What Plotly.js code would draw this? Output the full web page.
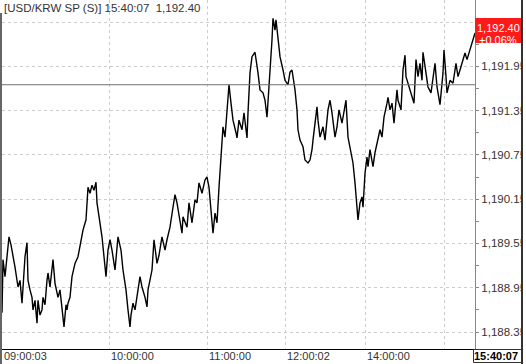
<!DOCTYPE html>
<html><head><meta charset="utf-8">
<script src="https://cdn.plot.ly/plotly-3.0.1.min.js"></script>
<style>html,body{margin:0;padding:0;background:#fff}#c{width:526px;height:364px}</style>
</head><body><div id="c"></div>
<script>
// ---- data (tick sequence number within the session, price) ----
const seq = [0,1,3,5,7,9,10,11,13,16,18,20,21,23,25,26,28,30,31,33,35,36,38,40,41,43,45,46,48,51,53,56,58,60,62,64,65,66,68,70,73,76,78,81,84,86,88,90,92,94,95,98,100,102,104,106,108,110,113,116,119,121,124,126,128,129,131,133,135,138,140,143,145,146,150,152,155,157,160,163,165,168,171,173,175,178,180,181,185,187,190,193,195,197,200,203,205,207,209,211,213,215,217,219,221,223,225,227,229,231,234,235,237,240,242,245,246,248,250,253,256,258,261,263,265,268,270,271,273,274,276,278,281,283,286,288,290,293,295,296,298,301,303,306,308,310,311,315,316,318,321,323,326,328,330,333,335,337,340,341,343,344,346,348,351,353,355,356,358,360,361,363,365,366,368,371,373,375,378,380,382,385,386,388,390,392,395,396,399,401,403,404,406,408,411,412,414,416,418,420,421,424,426,429,431,433,435,438,441,442,444,445,448,451,454,456,458,461,463,465,468,471,473];
const price = [1188.61,1189.33,1189.10,1189.37,1189.64,1189.53,1189.46,1189.42,1189.23,1188.96,1189.05,1188.74,1188.92,1189.37,1189.56,1189.05,1188.92,1188.82,1188.65,1188.78,1188.47,1188.78,1188.58,1188.65,1188.82,1188.72,1189.05,1189.15,1188.96,1189.33,1189.01,1188.82,1188.92,1188.65,1188.42,1188.72,1188.65,1188.74,1188.82,1189.10,1189.28,1189.37,1189.50,1189.73,1189.87,1190.31,1190.23,1190.34,1190.27,1190.38,1190.10,1189.83,1189.64,1189.37,1189.10,1189.46,1189.60,1189.46,1189.19,1189.64,1189.46,1189.19,1188.92,1188.65,1188.42,1188.58,1188.74,1188.65,1188.82,1189.10,1188.96,1188.82,1188.69,1188.92,1189.19,1189.60,1189.28,1189.39,1189.64,1189.46,1189.60,1189.77,1190.04,1190.21,1190.10,1189.87,1189.69,1189.91,1189.77,1190.10,1189.83,1190.14,1190.10,1190.37,1190.23,1190.41,1190.45,1190.31,1190.04,1189.69,1189.96,1189.83,1190.31,1190.72,1191.13,1190.99,1191.36,1191.70,1191.45,1191.22,1191.05,1190.98,1191.22,1191.09,1191.32,1190.98,1191.32,1191.86,1192.08,1192.14,1191.86,1191.63,1191.59,1191.49,1191.26,1191.83,1192.31,1192.60,1192.44,1192.58,1192.31,1192.08,1191.90,1191.76,1191.70,1191.87,1191.90,1191.63,1191.36,1191.09,1190.95,1190.86,1190.68,1190.64,1190.68,1190.82,1190.95,1191.40,1191.22,1190.99,1191.13,1190.95,1191.36,1191.49,1191.32,1190.99,1191.13,1191.36,1191.18,1191.26,1191.36,1191.49,1190.99,1190.86,1190.64,1190.37,1190.04,1189.87,1190.10,1190.18,1190.04,1190.50,1190.72,1190.59,1190.82,1190.59,1190.78,1190.91,1191.09,1190.99,1191.26,1191.45,1191.53,1191.36,1191.45,1191.18,1191.63,1191.49,1191.36,1191.90,1192.10,1191.81,1191.72,1191.63,1191.53,1191.45,1192.04,1191.81,1191.99,1191.76,1192.14,1191.81,1191.67,1191.59,1191.76,1191.99,1191.67,1191.43,1191.86,1192.17,1191.81,1191.59,1191.76,1191.72,1191.99,1191.81,1191.90,1192.04,1192.13,1192.04,1192.17,1192.31,1192.40];
const prevClose = 1191.70;
const symbol = '[USD/KRW SP (S)]';
const lastTime = '15:40:07';
const gridSeq = [107,205,283,363,442];
const labelSeq = [0,107,205,283,363];
const labelText = ['09:00:03','10:00:00','11:00:00','12:00:02','14:00:00'];
const seqMax = 473;
const yTick0 = 1188.35, yStep = 0.6;
const yMin = 1188.12, yMax = 1192.848;

// ---- layout helpers ----
const W = 526, H = 364, ML = 2, MR = 51, MT = 0, MB = 15;
const PW = W - ML - MR, PH = H - MT - MB;
const px = v => (v - ML) / PW;
const py = v => (H - MB - v) / PH;
const FONT = 'Liberation Sans, Arial, sans-serif';

const last = price[price.length - 1];
const chg = (last - prevClose) / prevClose * 100;
const fmt = v => v.toLocaleString('en-US', {minimumFractionDigits: 2, maximumFractionDigits: 2});
const chgText = (chg >= 0 ? '+' : '') + chg.toFixed(2) + '%';

const trace = {
  x: seq, y: price, type: 'scatter', mode: 'lines',
  line: {color: '#000', width: 1.4}, hoverinfo: 'skip', showlegend: false
};

const grid = {gridcolor: '#cccccc', griddash: '3px,3px', gridwidth: 1};

const annotations = [
  {xref: 'paper', yref: 'paper', x: px(2), y: py(8), xanchor: 'left', yanchor: 'middle',
   text: symbol + ' ' + lastTime + '\u00a0\u00a0' + fmt(last), showarrow: false,
   font: {family: FONT, size: 11.5, color: '#333'}},
  {xref: 'paper', yref: 'y', x: px(498), y: last, yshift: 5.5, xanchor: 'center', yanchor: 'middle',
   text: fmt(last), showarrow: false, font: {family: FONT, size: 11, color: '#fff'}},
  {xref: 'paper', yref: 'y', x: px(498), y: last, yshift: -6.5, xanchor: 'center', yanchor: 'middle',
   text: chgText, showarrow: false, font: {family: FONT, size: 11, color: '#fff'}},
  {xref: 'paper', yref: 'paper', x: px(520), y: 0, yshift: 1, xanchor: 'right', yanchor: 'top',
   text: '<b>' + lastTime + '</b>', showarrow: false, font: {family: FONT, size: 11, color: '#000'}}
];
labelSeq.forEach((s, i) => annotations.push({
  xref: 'x', yref: 'paper', x: s, y: 0, yshift: 1, xanchor: 'left', yanchor: 'top',
  text: labelText[i], showarrow: false, font: {family: FONT, size: 11, color: '#333'}
}));

const shapes = [
  {type: 'line', layer: 'above', xref: 'paper', yref: 'y', x0: px(0), x1: 1, y0: prevClose, y1: prevClose,
   line: {color: '#707070', width: 1}},
  {type: 'line', layer: 'above', xref: 'paper', yref: 'paper', x0: px(0), x1: px(523), y0: py(349.5), y1: py(349.5),
   line: {color: '#000', width: 1}},
  {type: 'rect', layer: 'above', xref: 'paper', yref: 'paper', x0: px(522.5), x1: px(527), y0: py(0), y1: py(364),
   fillcolor: '#fff', line: {width: 0}},
  {type: 'line', layer: 'above', xref: 'paper', yref: 'paper', x0: px(522), x1: px(522), y0: py(0), y1: py(364),
   line: {color: '#333', width: 2}},
  {type: 'line', layer: 'above', xref: 'paper', yref: 'paper', x0: px(1), x1: px(1), y0: py(13), y1: py(364),
   line: {color: '#666', width: 2}},
  {type: 'rect', layer: 'above', xref: 'paper', yref: 'y', ysizemode: 'pixel', yanchor: last,
   x0: px(475), x1: px(521), y0: -10, y1: 15, fillcolor: '#ff1a1a', line: {width: 0}},
  {type: 'rect', layer: 'above', xref: 'paper', yref: 'paper', x0: px(473.5), x1: px(522), y0: py(349.5), y1: py(362.5),
   fillcolor: 'rgba(0,0,0,0)', line: {color: '#333', width: 1}}
];

const layout = {
  width: W, height: H, margin: {l: ML, r: MR, t: MT, b: MB, pad: 0},
  paper_bgcolor: '#fff', plot_bgcolor: '#fff', showlegend: false,
  font: {family: FONT, size: 11, color: '#333'},
  xaxis: Object.assign({range: [0, seqMax], tickmode: 'array', tickvals: gridSeq, showticklabels: false,
    ticks: '', showgrid: true, zeroline: false, showline: false, fixedrange: true}, grid),
  yaxis: Object.assign({side: 'right', range: [yMin, yMax], tickmode: 'linear', tick0: yTick0, dtick: yStep,
    tickformat: ',.2f', showgrid: true, zeroline: false, showline: true, linecolor: '#888', linewidth: 1,
    ticks: 'outside', ticklen: 3, tickcolor: '#888', tickwidth: 1,
    tickfont: {family: FONT, size: 11.5, color: '#333'},
    minor: {tickmode: 'linear', tick0: yTick0, dtick: yStep / 2, ticks: 'outside', ticklen: 3, tickcolor: '#888', showgrid: false},
    fixedrange: true}, grid),
  annotations: annotations,
  shapes: shapes
};

Plotly.newPlot('c', [trace], layout, {staticPlot: true, displayModeBar: false});
</script>
</body></html>
